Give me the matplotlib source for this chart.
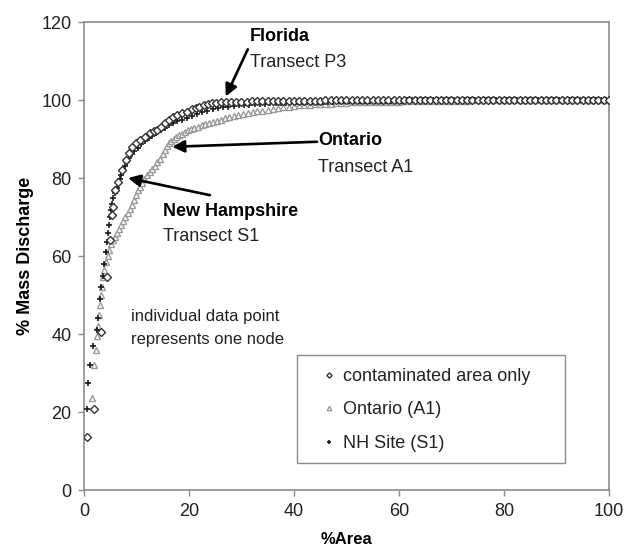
import matplotlib
matplotlib.use("Agg")
import matplotlib.pyplot as plt
from matplotlib.patches import Rectangle

plt.rcParams["font.family"] = ["Liberation Sans", "DejaVu Sans"]

# Cumulative mass discharge vs cumulative area, nodes sorted by discharge
florida_x = [0.6, 1.9, 3.2, 4.3, 4.9, 5.3, 5.6, 5.9, 6.5, 7.2, 8.0, 8.6,
             9.1, 9.9, 10.7, 11.6, 12.6, 13.3, 13.9, 14.7, 15.4, 16.2, 17.0, 17.8,
             18.7, 19.6, 20.5, 21.3, 22.0, 22.8, 23.6, 24.4, 25.2, 26.1, 27.0, 28.0,
             29.0, 30.0,
             31, 32, 33, 34, 35, 36, 37, 38, 39, 40,
             41, 42, 43, 44, 45, 46, 47, 48, 49, 50,
             51, 52, 53, 54, 55, 56, 57, 58, 59, 60,
             61, 62, 63, 64, 65, 66, 67, 68, 69, 70,
             71, 72, 73, 74, 75, 76, 77, 78, 79, 80,
             81, 82, 83, 84, 85, 86, 87, 88, 89, 90,
             91, 92, 93, 94, 95, 96, 97, 98, 99, 100]
florida_y = [13.6, 20.8, 40.5, 54.6, 64.0, 70.5, 72.6, 77.0, 79.0, 82.0, 84.5, 86.5,
             88.0, 89.0, 89.7, 90.6, 91.5, 92.0, 92.3, 93.2, 94.2, 95.0, 95.7, 96.2,
             96.7, 97.0, 97.6, 97.9, 98.2, 98.6, 99.0, 99.2, 99.3, 99.4, 99.5, 99.5,
             99.6, 99.6,
             99.6, 99.7, 99.7, 99.7, 99.7, 99.8, 99.8, 99.8, 99.8, 99.8,
             99.8, 99.8, 99.8, 99.8, 99.8, 99.9, 99.9, 99.9, 99.9, 99.9,
             99.9, 99.9, 99.9, 99.9, 99.9, 99.9, 99.9, 99.9, 99.9, 99.9,
             99.9, 99.9, 99.9, 99.9, 99.9, 99.9, 99.9, 99.9, 99.9, 99.9,
             99.9, 99.9, 100.0, 100.0, 100.0, 100.0, 100.0, 100.0, 100.0, 100.0,
             100.0, 100.0, 100.0, 100.0, 100.0, 100.0, 100.0, 100.0, 100.0, 100.0,
             100.0, 100.0, 100.0, 100.0, 100.0, 100.0, 100.0, 100.0, 100.0, 100.0]

ontario_x = [1.5, 2.0, 2.3, 2.5, 2.6, 2.8, 3.0, 3.2, 3.4, 3.6, 3.9, 4.2,
             4.5, 4.8, 5.1, 5.5, 5.9, 6.3, 6.7, 7.1, 7.5, 7.9, 8.3, 8.7,
             9.1, 9.5, 9.9, 10.3, 10.7, 11.1, 11.5, 12.0, 12.5, 13.0, 13.5, 14.0,
             14.5, 15.0, 15.4, 15.8, 16.2, 16.6, 17.1, 17.6, 18.1, 18.6, 19.2, 19.8,
             20.4, 21.0, 21.7, 22.4, 23.1, 23.8, 24.5, 25.3, 26.1, 26.9, 27.7, 28.5,
             29.4, 30.3, 31.2, 32.1, 33.0, 34.0, 35.0, 36.0, 37.0, 38.0, 39.0, 40.0,
             41, 42, 43, 44, 45, 46, 47, 48, 49, 50,
             51, 52, 53, 54, 55, 56, 57, 58, 59, 60,
             61, 62, 63, 64, 65, 66, 67, 68, 69, 70,
             71, 72, 73, 74, 75, 76, 77, 78, 79, 80,
             81, 82, 83, 84, 85, 86, 87, 88, 89, 90,
             91, 92, 93, 94, 95, 96, 97, 98, 99, 100]
ontario_y = [23.6, 32.0, 36.0, 39.5, 42.0, 45.0, 47.5, 50.0, 52.0, 54.5, 56.5, 58.5,
             60.0, 61.5, 63.0, 64.0, 65.0, 66.0, 67.0, 68.0, 69.0, 70.0, 71.0, 72.0,
             73.0, 74.3, 75.6, 76.8, 77.8, 78.8, 79.8, 80.8, 81.6, 82.3, 83.0, 84.0,
             85.0, 86.2, 87.3, 88.3, 89.0, 89.6, 90.1, 90.6, 91.0, 91.4, 91.8, 92.2,
             92.6, 92.9, 93.2, 93.5, 93.8, 94.1, 94.4, 94.7, 95.0, 95.3, 95.6, 95.9,
             96.2, 96.5, 96.7, 96.9, 97.1, 97.3, 97.5, 97.7, 97.9, 98.1, 98.3, 98.5,
             98.6, 98.7, 98.8, 98.9, 99.0, 99.1, 99.1, 99.2, 99.3, 99.3,
             99.4, 99.4, 99.4, 99.5, 99.5, 99.5, 99.6, 99.6, 99.6, 99.6,
             99.7, 99.7, 99.7, 99.7, 99.7, 99.8, 99.8, 99.8, 99.8, 99.8,
             99.8, 99.8, 99.8, 99.9, 99.9, 99.9, 99.9, 99.9, 99.9, 99.9,
             99.9, 99.9, 99.9, 99.9, 99.9, 99.9, 99.9, 100.0, 100.0, 100.0,
             100.0, 100.0, 100.0, 100.0, 100.0, 100.0, 100.0, 100.0, 100.0, 100.0]

nh_x = [0.6, 0.6, 0.8, 1.2, 1.8, 2.4, 2.7, 3.0, 3.3, 3.6,
        3.8, 4.1, 4.3, 4.5, 4.7, 4.9, 5.1, 5.3, 5.6, 5.9,
        6.2, 6.5, 6.8, 7.1, 7.4, 7.8, 8.2, 8.6, 9.1, 9.6,
        10.2, 10.9, 11.6, 12.3, 13.0, 13.8, 14.6, 15.4, 16.2, 17.0,
        17.8, 18.7, 19.6, 20.5, 21.5, 22.5, 23.5, 24.5, 25.5, 26.5,
        27.5, 28.5, 29.5,
        30.5, 31.5, 32.5, 33.5, 34.5, 35.5, 36.5, 37.5, 38.5, 39.5,
        40.5, 41.5, 42.5, 43.5, 44.5, 45.5, 46.5, 47.5, 48.5, 49.5,
        50.5, 51.5, 52.5, 53.5, 54.5, 55.5, 56.5, 57.5, 58.5, 59.5,
        60.5, 61.5, 62.5, 63.5, 64.5, 65.5, 66.5, 67.5, 68.5, 69.5,
        70.5, 71.5, 72.5, 73.5, 74.5, 75.5, 76.5, 77.5, 78.5, 79.5,
        80.5, 81.5, 82.5, 83.5, 84.5, 85.5, 86.5, 87.5, 88.5, 89.5,
        90.5, 91.5, 92.5, 93.5, 94.5, 95.5, 96.5, 97.5, 98.5, 99.5]
nh_y = [13.6, 20.8, 27.4, 32.0, 37.0, 41.0, 44.0, 49.0, 52.0, 55.0,
        58.0, 61.0, 63.5, 66.0, 68.0, 70.0, 71.8, 73.3, 74.8, 76.2,
        77.5, 78.7, 79.8, 80.9, 82.0, 83.1, 84.2, 85.2, 86.2, 87.0,
        87.8, 88.7, 89.5, 90.2, 90.9, 91.6, 92.3, 92.9, 93.5, 94.0,
        94.5, 95.0, 95.5, 96.0, 96.5, 96.9, 97.3, 97.6, 97.9, 98.1,
        98.3, 98.5, 98.6,
        98.7, 98.8, 98.9, 99.0, 99.1, 99.2, 99.2, 99.3, 99.3, 99.4,
        99.4, 99.5, 99.5, 99.5, 99.6, 99.6, 99.6, 99.6, 99.7, 99.7,
        99.7, 99.7, 99.7, 99.8, 99.8, 99.8, 99.8, 99.8, 99.8, 99.8,
        99.8, 99.9, 99.9, 99.9, 99.9, 99.9, 99.9, 99.9, 99.9, 99.9,
        99.9, 99.9, 99.9, 99.9, 99.9, 99.9, 99.9, 99.9, 99.9, 99.9,
        99.9, 99.9, 99.9, 99.9, 99.9, 100.0, 100.0, 100.0, 100.0, 100.0,
        100.0, 100.0, 100.0, 100.0, 100.0, 100.0, 100.0, 100.0, 100.0, 100.0]

x_ticks = [0, 20, 40, 60, 80, 100]
y_ticks = [0, 20, 40, 60, 80, 100, 120]

frame_color = "#8c8c8c"
text_color = "#222222"

fig = plt.figure(figsize=(6.33, 5.56), dpi=100)
ax = fig.add_axes([0.1327, 0.1187, 0.8293, 0.8417])

ax.plot(ontario_x, ontario_y, linestyle="none", marker="^", markersize=4.6,
        markerfacecolor="white", markeredgecolor="#9a9a9a", markeredgewidth=1.0,
        label="Ontario (A1)", zorder=2)
ax.plot(nh_x, nh_y, linestyle="none", marker="+", markersize=5.0,
        color="#1a1a1a", markeredgewidth=1.2, label="NH Site (S1)", zorder=3)
ax.plot(florida_x, florida_y, linestyle="none", marker="D", markersize=3.8,
        markerfacecolor="white", markeredgecolor="#333333", markeredgewidth=1.0,
        label="contaminated area only", zorder=4)

ax.set_xlim(0, 100)
ax.set_ylim(0, 120)
ax.set_xticks(x_ticks)
ax.set_yticks(y_ticks)
ax.tick_params(axis="both", direction="out", length=4, width=1, color=frame_color,
               labelsize=13, labelcolor=text_color, pad=5)
for spine in ax.spines.values():
    spine.set_color(frame_color)
    spine.set_linewidth(1.2)

ax.set_xlabel("%Area", fontsize=12, fontweight="bold", labelpad=9)
ax.set_ylabel("% Mass Discharge", fontsize=13, fontweight="bold", labelpad=5)

# legend: frame drawn as its own box, entries placed inside it
ax.add_patch(Rectangle((0.406, 0.058), 0.510, 0.230, transform=ax.transAxes,
                       facecolor="white", edgecolor=frame_color, linewidth=1.0,
                       zorder=5))
handles, labels = ax.get_legend_handles_labels()
order = [2, 0, 1]
leg = ax.legend([handles[i] for i in order], [labels[i] for i in order],
                loc="upper left", bbox_to_anchor=(0.453, 0.261),
                fontsize=13, frameon=False, markerscale=0.7,
                handlelength=0.8, handletextpad=0.35, borderpad=0,
                labelspacing=0.92, borderaxespad=0)
leg.set_zorder(6)
for t in leg.get_texts():
    t.set_color(text_color)

arrow = dict(arrowstyle="-|>", color="black", lw=1.9, mutation_scale=18,
             shrinkA=0, shrinkB=0)

# Florida label
ax.text(31.6, 116.2, "Florida", fontsize=13, fontweight="bold", va="center", ha="left")
ax.text(31.6, 109.7, "Transect P3", fontsize=13, va="center", ha="left", color=text_color)
ax.annotate("", xy=(27.0, 100.9), xytext=(31.2, 113.0), arrowprops=arrow)

# Ontario label
ax.text(44.6, 89.7, "Ontario", fontsize=13, fontweight="bold", va="center", ha="left")
ax.text(44.6, 82.8, "Transect A1", fontsize=13, va="center", ha="left", color=text_color)
ax.annotate("", xy=(16.8, 88.0), xytext=(44.4, 89.3), arrowprops=arrow)

# New Hampshire label
ax.text(15.0, 71.3, "New Hampshire", fontsize=13, fontweight="bold", va="center", ha="left")
ax.text(15.0, 64.9, "Transect S1", fontsize=13, va="center", ha="left", color=text_color)
ax.annotate("", xy=(8.4, 80.0), xytext=(24.0, 75.6), arrowprops=arrow)

ax.text(9.0, 44.4, "individual data point", fontsize=12, va="center", ha="left",
        color=text_color)
ax.text(9.0, 38.5, "represents one node", fontsize=12, va="center", ha="left",
        color=text_color)

fig.savefig("out.png", dpi=100)
